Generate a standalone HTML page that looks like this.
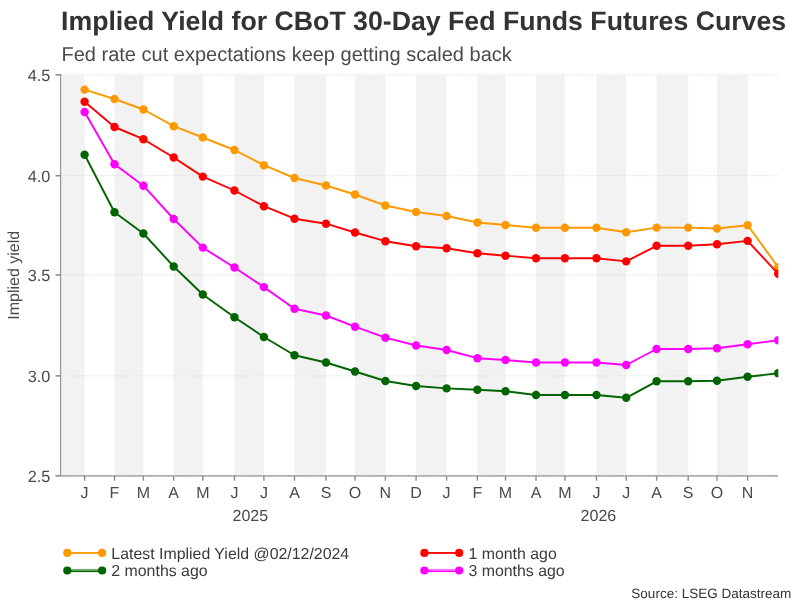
<!DOCTYPE html><html><head><meta charset="utf-8"><style>html,body{margin:0;padding:0;background:#fff}svg{display:block;will-change:transform}text{font-family:"Liberation Sans",Arial,sans-serif;text-rendering:geometricPrecision}</style></head><body>
<svg width="801" height="603" viewBox="0 0 801 603">
<rect width="801" height="603" fill="#fff"/>
<rect x="61.90" y="75.4" width="22.70" height="399.90" fill="#f2f2f2"/>
<rect x="114.50" y="75.4" width="28.90" height="399.90" fill="#f2f2f2"/>
<rect x="173.70" y="75.4" width="29.10" height="399.90" fill="#f2f2f2"/>
<rect x="234.45" y="75.4" width="29.45" height="399.90" fill="#f2f2f2"/>
<rect x="294.50" y="75.4" width="31.50" height="399.90" fill="#f2f2f2"/>
<rect x="355.00" y="75.4" width="30.40" height="399.90" fill="#f2f2f2"/>
<rect x="416.10" y="75.4" width="30.50" height="399.90" fill="#f2f2f2"/>
<rect x="477.40" y="75.4" width="28.10" height="399.90" fill="#f2f2f2"/>
<rect x="536.00" y="75.4" width="28.90" height="399.90" fill="#f2f2f2"/>
<rect x="596.45" y="75.4" width="29.75" height="399.90" fill="#f2f2f2"/>
<rect x="656.60" y="75.4" width="31.60" height="399.90" fill="#f2f2f2"/>
<rect x="717.00" y="75.4" width="30.60" height="399.90" fill="#f2f2f2"/>
<line x1="61.9" x2="778.3" y1="74.90" y2="74.90" stroke="#d6d6d6" stroke-width="1" stroke-dasharray="1 1.5"/>
<line x1="61.9" x2="778.3" y1="175.70" y2="175.70" stroke="#d6d6d6" stroke-width="1" stroke-dasharray="1 1.5"/>
<line x1="61.9" x2="778.3" y1="274.95" y2="274.95" stroke="#d6d6d6" stroke-width="1" stroke-dasharray="1 1.5"/>
<line x1="61.9" x2="778.3" y1="375.90" y2="375.90" stroke="#d6d6d6" stroke-width="1" stroke-dasharray="1 1.5"/>
<line x1="60.65" x2="778.3" y1="475.85" y2="475.85" stroke="#bababa" stroke-width="1.8"/>
<line x1="60.65" x2="778.3" y1="475.85" y2="475.85" stroke="#a2a2a2" stroke-width="1.8" stroke-dasharray="1 1.5"/>
<line x1="60.65" x2="60.65" y1="74.10000000000001" y2="475.85" stroke="#999" stroke-width="1.35"/>
<line x1="55.5" x2="60.65" y1="74.90" y2="74.90" stroke="#8c8c8c" stroke-width="1.6"/>
<text x="50.4" y="80.90" font-size="16.3" fill="#4a4a4a" text-anchor="end">4.5</text>
<line x1="55.5" x2="60.65" y1="175.70" y2="175.70" stroke="#8c8c8c" stroke-width="1.6"/>
<text x="50.4" y="181.70" font-size="16.3" fill="#4a4a4a" text-anchor="end">4.0</text>
<line x1="55.5" x2="60.65" y1="274.95" y2="274.95" stroke="#8c8c8c" stroke-width="1.6"/>
<text x="50.4" y="280.95" font-size="16.3" fill="#4a4a4a" text-anchor="end">3.5</text>
<line x1="55.5" x2="60.65" y1="375.90" y2="375.90" stroke="#8c8c8c" stroke-width="1.6"/>
<text x="50.4" y="381.90" font-size="16.3" fill="#4a4a4a" text-anchor="end">3.0</text>
<line x1="55.5" x2="60.65" y1="475.85" y2="475.85" stroke="#8c8c8c" stroke-width="1.6"/>
<text x="50.4" y="481.85" font-size="16.3" fill="#4a4a4a" text-anchor="end">2.5</text>
<line x1="84.60" x2="84.60" y1="475.85" y2="480.65000000000003" stroke="#8c8c8c" stroke-width="1.4"/>
<text x="84.60" y="498" font-size="16" fill="#4a4a4a" text-anchor="middle">J</text>
<line x1="114.50" x2="114.50" y1="475.85" y2="480.65000000000003" stroke="#8c8c8c" stroke-width="1.4"/>
<text x="114.50" y="498" font-size="16" fill="#4a4a4a" text-anchor="middle">F</text>
<line x1="143.40" x2="143.40" y1="475.85" y2="480.65000000000003" stroke="#8c8c8c" stroke-width="1.4"/>
<text x="143.40" y="498" font-size="16" fill="#4a4a4a" text-anchor="middle">M</text>
<line x1="173.70" x2="173.70" y1="475.85" y2="480.65000000000003" stroke="#8c8c8c" stroke-width="1.4"/>
<text x="173.70" y="498" font-size="16" fill="#4a4a4a" text-anchor="middle">A</text>
<line x1="202.80" x2="202.80" y1="475.85" y2="480.65000000000003" stroke="#8c8c8c" stroke-width="1.4"/>
<text x="202.80" y="498" font-size="16" fill="#4a4a4a" text-anchor="middle">M</text>
<line x1="234.45" x2="234.45" y1="475.85" y2="480.65000000000003" stroke="#8c8c8c" stroke-width="1.4"/>
<text x="234.45" y="498" font-size="16" fill="#4a4a4a" text-anchor="middle">J</text>
<line x1="263.90" x2="263.90" y1="475.85" y2="480.65000000000003" stroke="#8c8c8c" stroke-width="1.4"/>
<text x="263.90" y="498" font-size="16" fill="#4a4a4a" text-anchor="middle">J</text>
<line x1="294.50" x2="294.50" y1="475.85" y2="480.65000000000003" stroke="#8c8c8c" stroke-width="1.4"/>
<text x="294.50" y="498" font-size="16" fill="#4a4a4a" text-anchor="middle">A</text>
<line x1="326.00" x2="326.00" y1="475.85" y2="480.65000000000003" stroke="#8c8c8c" stroke-width="1.4"/>
<text x="326.00" y="498" font-size="16" fill="#4a4a4a" text-anchor="middle">S</text>
<line x1="355.00" x2="355.00" y1="475.85" y2="480.65000000000003" stroke="#8c8c8c" stroke-width="1.4"/>
<text x="355.00" y="498" font-size="16" fill="#4a4a4a" text-anchor="middle">O</text>
<line x1="385.40" x2="385.40" y1="475.85" y2="480.65000000000003" stroke="#8c8c8c" stroke-width="1.4"/>
<text x="385.40" y="498" font-size="16" fill="#4a4a4a" text-anchor="middle">N</text>
<line x1="416.10" x2="416.10" y1="475.85" y2="480.65000000000003" stroke="#8c8c8c" stroke-width="1.4"/>
<text x="416.10" y="498" font-size="16" fill="#4a4a4a" text-anchor="middle">D</text>
<line x1="446.60" x2="446.60" y1="475.85" y2="480.65000000000003" stroke="#8c8c8c" stroke-width="1.4"/>
<text x="446.60" y="498" font-size="16" fill="#4a4a4a" text-anchor="middle">J</text>
<line x1="477.40" x2="477.40" y1="475.85" y2="480.65000000000003" stroke="#8c8c8c" stroke-width="1.4"/>
<text x="477.40" y="498" font-size="16" fill="#4a4a4a" text-anchor="middle">F</text>
<line x1="505.50" x2="505.50" y1="475.85" y2="480.65000000000003" stroke="#8c8c8c" stroke-width="1.4"/>
<text x="505.50" y="498" font-size="16" fill="#4a4a4a" text-anchor="middle">M</text>
<line x1="536.00" x2="536.00" y1="475.85" y2="480.65000000000003" stroke="#8c8c8c" stroke-width="1.4"/>
<text x="536.00" y="498" font-size="16" fill="#4a4a4a" text-anchor="middle">A</text>
<line x1="564.90" x2="564.90" y1="475.85" y2="480.65000000000003" stroke="#8c8c8c" stroke-width="1.4"/>
<text x="564.90" y="498" font-size="16" fill="#4a4a4a" text-anchor="middle">M</text>
<line x1="596.45" x2="596.45" y1="475.85" y2="480.65000000000003" stroke="#8c8c8c" stroke-width="1.4"/>
<text x="596.45" y="498" font-size="16" fill="#4a4a4a" text-anchor="middle">J</text>
<line x1="626.20" x2="626.20" y1="475.85" y2="480.65000000000003" stroke="#8c8c8c" stroke-width="1.4"/>
<text x="626.20" y="498" font-size="16" fill="#4a4a4a" text-anchor="middle">J</text>
<line x1="656.60" x2="656.60" y1="475.85" y2="480.65000000000003" stroke="#8c8c8c" stroke-width="1.4"/>
<text x="656.60" y="498" font-size="16" fill="#4a4a4a" text-anchor="middle">A</text>
<line x1="688.20" x2="688.20" y1="475.85" y2="480.65000000000003" stroke="#8c8c8c" stroke-width="1.4"/>
<text x="688.20" y="498" font-size="16" fill="#4a4a4a" text-anchor="middle">S</text>
<line x1="717.00" x2="717.00" y1="475.85" y2="480.65000000000003" stroke="#8c8c8c" stroke-width="1.4"/>
<text x="717.00" y="498" font-size="16" fill="#4a4a4a" text-anchor="middle">O</text>
<line x1="747.60" x2="747.60" y1="475.85" y2="480.65000000000003" stroke="#8c8c8c" stroke-width="1.4"/>
<text x="747.60" y="498" font-size="16" fill="#4a4a4a" text-anchor="middle">N</text>
<text x="250.35" y="521" font-size="16" fill="#4a4a4a" text-anchor="middle">2025</text>
<text x="598.40" y="521" font-size="16" fill="#4a4a4a" text-anchor="middle">2026</text>
<text transform="translate(19,275.3) rotate(-90)" font-size="16" fill="#4a4a4a" text-anchor="middle">Implied yield</text>
<clipPath id="c"><rect x="61.9" y="60.400000000000006" width="716.4" height="429.9"/></clipPath>
<g clip-path="url(#c)">
<polyline points="84.60,89.60 114.50,99.00 143.40,109.50 173.70,126.20 202.80,137.50 234.45,150.00 263.90,165.20 294.50,178.00 326.00,185.50 355.00,194.50 385.40,205.50 416.10,212.00 446.60,216.00 477.40,222.50 505.50,225.00 536.00,227.70 564.90,227.70 596.45,227.70 626.20,232.20 656.60,227.60 688.20,227.60 717.00,228.50 747.60,225.20 778.20,267.20" fill="none" stroke="#ff9900" stroke-width="1.9" stroke-linejoin="round"/>
<circle cx="84.60" cy="89.60" r="4.2" fill="#ff9900"/>
<circle cx="114.50" cy="99.00" r="4.2" fill="#ff9900"/>
<circle cx="143.40" cy="109.50" r="4.2" fill="#ff9900"/>
<circle cx="173.70" cy="126.20" r="4.2" fill="#ff9900"/>
<circle cx="202.80" cy="137.50" r="4.2" fill="#ff9900"/>
<circle cx="234.45" cy="150.00" r="4.2" fill="#ff9900"/>
<circle cx="263.90" cy="165.20" r="4.2" fill="#ff9900"/>
<circle cx="294.50" cy="178.00" r="4.2" fill="#ff9900"/>
<circle cx="326.00" cy="185.50" r="4.2" fill="#ff9900"/>
<circle cx="355.00" cy="194.50" r="4.2" fill="#ff9900"/>
<circle cx="385.40" cy="205.50" r="4.2" fill="#ff9900"/>
<circle cx="416.10" cy="212.00" r="4.2" fill="#ff9900"/>
<circle cx="446.60" cy="216.00" r="4.2" fill="#ff9900"/>
<circle cx="477.40" cy="222.50" r="4.2" fill="#ff9900"/>
<circle cx="505.50" cy="225.00" r="4.2" fill="#ff9900"/>
<circle cx="536.00" cy="227.70" r="4.2" fill="#ff9900"/>
<circle cx="564.90" cy="227.70" r="4.2" fill="#ff9900"/>
<circle cx="596.45" cy="227.70" r="4.2" fill="#ff9900"/>
<circle cx="626.20" cy="232.20" r="4.2" fill="#ff9900"/>
<circle cx="656.60" cy="227.60" r="4.2" fill="#ff9900"/>
<circle cx="688.20" cy="227.60" r="4.2" fill="#ff9900"/>
<circle cx="717.00" cy="228.50" r="4.2" fill="#ff9900"/>
<circle cx="747.60" cy="225.20" r="4.2" fill="#ff9900"/>
<circle cx="778.20" cy="267.20" r="4.2" fill="#ff9900"/>
<polyline points="84.60,101.80 114.50,127.00 143.40,139.20 173.70,157.50 202.80,176.60 234.45,190.50 263.90,206.20 294.50,218.70 326.00,223.70 355.00,232.50 385.40,241.20 416.10,246.20 446.60,248.30 477.40,253.20 505.50,255.70 536.00,258.20 564.90,258.20 596.45,258.20 626.20,261.40 656.60,245.80 688.20,245.80 717.00,244.30 747.60,240.90 778.20,273.80" fill="none" stroke="#ff0000" stroke-width="1.9" stroke-linejoin="round"/>
<circle cx="84.60" cy="101.80" r="4.2" fill="#ff0000"/>
<circle cx="114.50" cy="127.00" r="4.2" fill="#ff0000"/>
<circle cx="143.40" cy="139.20" r="4.2" fill="#ff0000"/>
<circle cx="173.70" cy="157.50" r="4.2" fill="#ff0000"/>
<circle cx="202.80" cy="176.60" r="4.2" fill="#ff0000"/>
<circle cx="234.45" cy="190.50" r="4.2" fill="#ff0000"/>
<circle cx="263.90" cy="206.20" r="4.2" fill="#ff0000"/>
<circle cx="294.50" cy="218.70" r="4.2" fill="#ff0000"/>
<circle cx="326.00" cy="223.70" r="4.2" fill="#ff0000"/>
<circle cx="355.00" cy="232.50" r="4.2" fill="#ff0000"/>
<circle cx="385.40" cy="241.20" r="4.2" fill="#ff0000"/>
<circle cx="416.10" cy="246.20" r="4.2" fill="#ff0000"/>
<circle cx="446.60" cy="248.30" r="4.2" fill="#ff0000"/>
<circle cx="477.40" cy="253.20" r="4.2" fill="#ff0000"/>
<circle cx="505.50" cy="255.70" r="4.2" fill="#ff0000"/>
<circle cx="536.00" cy="258.20" r="4.2" fill="#ff0000"/>
<circle cx="564.90" cy="258.20" r="4.2" fill="#ff0000"/>
<circle cx="596.45" cy="258.20" r="4.2" fill="#ff0000"/>
<circle cx="626.20" cy="261.40" r="4.2" fill="#ff0000"/>
<circle cx="656.60" cy="245.80" r="4.2" fill="#ff0000"/>
<circle cx="688.20" cy="245.80" r="4.2" fill="#ff0000"/>
<circle cx="717.00" cy="244.30" r="4.2" fill="#ff0000"/>
<circle cx="747.60" cy="240.90" r="4.2" fill="#ff0000"/>
<circle cx="778.20" cy="273.80" r="4.2" fill="#ff0000"/>
<polyline points="84.60,154.80 114.50,212.20 143.40,233.50 173.70,266.50 202.80,294.50 234.45,317.20 263.90,337.00 294.50,355.20 326.00,362.50 355.00,371.50 385.40,381.00 416.10,386.00 446.60,388.40 477.40,389.70 505.50,391.20 536.00,395.00 564.90,395.00 596.45,395.00 626.20,397.80 656.60,381.30 688.20,381.30 717.00,380.70 747.60,376.80 778.20,373.30" fill="none" stroke="#006400" stroke-width="1.9" stroke-linejoin="round"/>
<circle cx="84.60" cy="154.80" r="4.2" fill="#006400"/>
<circle cx="114.50" cy="212.20" r="4.2" fill="#006400"/>
<circle cx="143.40" cy="233.50" r="4.2" fill="#006400"/>
<circle cx="173.70" cy="266.50" r="4.2" fill="#006400"/>
<circle cx="202.80" cy="294.50" r="4.2" fill="#006400"/>
<circle cx="234.45" cy="317.20" r="4.2" fill="#006400"/>
<circle cx="263.90" cy="337.00" r="4.2" fill="#006400"/>
<circle cx="294.50" cy="355.20" r="4.2" fill="#006400"/>
<circle cx="326.00" cy="362.50" r="4.2" fill="#006400"/>
<circle cx="355.00" cy="371.50" r="4.2" fill="#006400"/>
<circle cx="385.40" cy="381.00" r="4.2" fill="#006400"/>
<circle cx="416.10" cy="386.00" r="4.2" fill="#006400"/>
<circle cx="446.60" cy="388.40" r="4.2" fill="#006400"/>
<circle cx="477.40" cy="389.70" r="4.2" fill="#006400"/>
<circle cx="505.50" cy="391.20" r="4.2" fill="#006400"/>
<circle cx="536.00" cy="395.00" r="4.2" fill="#006400"/>
<circle cx="564.90" cy="395.00" r="4.2" fill="#006400"/>
<circle cx="596.45" cy="395.00" r="4.2" fill="#006400"/>
<circle cx="626.20" cy="397.80" r="4.2" fill="#006400"/>
<circle cx="656.60" cy="381.30" r="4.2" fill="#006400"/>
<circle cx="688.20" cy="381.30" r="4.2" fill="#006400"/>
<circle cx="717.00" cy="380.70" r="4.2" fill="#006400"/>
<circle cx="747.60" cy="376.80" r="4.2" fill="#006400"/>
<circle cx="778.20" cy="373.30" r="4.2" fill="#006400"/>
<polyline points="84.60,112.00 114.50,164.30 143.40,185.70 173.70,219.00 202.80,247.60 234.45,267.50 263.90,287.10 294.50,308.70 326.00,315.50 355.00,326.70 385.40,337.70 416.10,345.50 446.60,350.00 477.40,358.20 505.50,360.00 536.00,362.50 564.90,362.50 596.45,362.50 626.20,365.00 656.60,349.00 688.20,349.00 717.00,348.30 747.60,344.30 778.20,340.20" fill="none" stroke="#ff00ff" stroke-width="1.9" stroke-linejoin="round"/>
<circle cx="84.60" cy="112.00" r="4.2" fill="#ff00ff"/>
<circle cx="114.50" cy="164.30" r="4.2" fill="#ff00ff"/>
<circle cx="143.40" cy="185.70" r="4.2" fill="#ff00ff"/>
<circle cx="173.70" cy="219.00" r="4.2" fill="#ff00ff"/>
<circle cx="202.80" cy="247.60" r="4.2" fill="#ff00ff"/>
<circle cx="234.45" cy="267.50" r="4.2" fill="#ff00ff"/>
<circle cx="263.90" cy="287.10" r="4.2" fill="#ff00ff"/>
<circle cx="294.50" cy="308.70" r="4.2" fill="#ff00ff"/>
<circle cx="326.00" cy="315.50" r="4.2" fill="#ff00ff"/>
<circle cx="355.00" cy="326.70" r="4.2" fill="#ff00ff"/>
<circle cx="385.40" cy="337.70" r="4.2" fill="#ff00ff"/>
<circle cx="416.10" cy="345.50" r="4.2" fill="#ff00ff"/>
<circle cx="446.60" cy="350.00" r="4.2" fill="#ff00ff"/>
<circle cx="477.40" cy="358.20" r="4.2" fill="#ff00ff"/>
<circle cx="505.50" cy="360.00" r="4.2" fill="#ff00ff"/>
<circle cx="536.00" cy="362.50" r="4.2" fill="#ff00ff"/>
<circle cx="564.90" cy="362.50" r="4.2" fill="#ff00ff"/>
<circle cx="596.45" cy="362.50" r="4.2" fill="#ff00ff"/>
<circle cx="626.20" cy="365.00" r="4.2" fill="#ff00ff"/>
<circle cx="656.60" cy="349.00" r="4.2" fill="#ff00ff"/>
<circle cx="688.20" cy="349.00" r="4.2" fill="#ff00ff"/>
<circle cx="717.00" cy="348.30" r="4.2" fill="#ff00ff"/>
<circle cx="747.60" cy="344.30" r="4.2" fill="#ff00ff"/>
<circle cx="778.20" cy="340.20" r="4.2" fill="#ff00ff"/>
</g>
<text x="61" y="29.5" font-size="26.7" font-weight="bold" fill="#333">Implied Yield for CBoT 30-Day Fed Funds Futures Curves</text>
<text x="61.5" y="60.5" font-size="20" fill="#4a4a4a">Fed rate cut expectations keep getting scaled back</text>
<rect x="67.3" y="552.05" width="35" height="1.8" fill="#ff9900"/>
<circle cx="67.3" cy="552.9" r="4.1" fill="#ff9900"/><circle cx="102.1" cy="552.9" r="4.1" fill="#ff9900"/>
<text x="111.3" y="558.6999999999999" font-size="15.9" fill="#3a3a3a">Latest Implied Yield @02/12/2024</text>
<rect x="424.4" y="552.05" width="35" height="1.8" fill="#ff0000"/>
<circle cx="424.4" cy="552.9" r="4.1" fill="#ff0000"/><circle cx="459.2" cy="552.9" r="4.1" fill="#ff0000"/>
<text x="468.4" y="558.6999999999999" font-size="15.9" fill="#3a3a3a">1 month ago</text>
<rect x="67.3" y="568.90" width="35" height="1.6" fill="#006400" fill-opacity="0.55"/>
<rect x="67.3" y="570.50" width="35" height="1.6" fill="#006400"/>
<circle cx="67.3" cy="570.5" r="4.1" fill="#006400"/><circle cx="102.1" cy="570.5" r="4.1" fill="#006400"/>
<text x="111.3" y="576.3" font-size="15.9" fill="#3a3a3a">2 months ago</text>
<rect x="424.4" y="568.90" width="35" height="1.6" fill="#ff00ff" fill-opacity="0.55"/>
<rect x="424.4" y="570.50" width="35" height="1.6" fill="#ff00ff"/>
<circle cx="424.4" cy="570.5" r="4.1" fill="#ff00ff"/><circle cx="459.2" cy="570.5" r="4.1" fill="#ff00ff"/>
<text x="468.4" y="576.3" font-size="15.9" fill="#3a3a3a">3 months ago</text>
<text x="791.2" y="598.2" font-size="13.5" fill="#333" text-anchor="end">Source: LSEG Datastream</text>
</svg></body></html>
